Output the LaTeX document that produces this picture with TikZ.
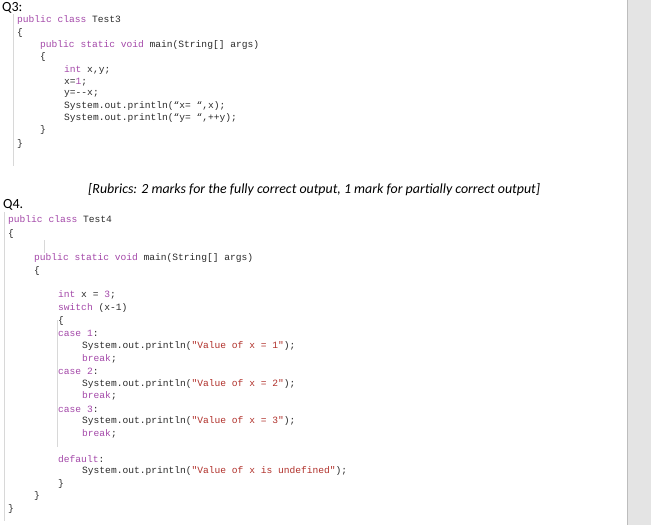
\documentclass[tikz,border=0pt]{standalone}
\usepackage{fontspec}
\setmainfont{Carlito}
\newfontfamily\codefont{Liberation Mono}
\usetikzlibrary{positioning}
\definecolor{kw}{HTML}{A347A8}
\definecolor{str}{HTML}{B0302A}
\definecolor{txt}{HTML}{2A2A2A}
\definecolor{guide}{HTML}{D8D8D8}
\definecolor{side}{HTML}{E4E4E4}
\newcommand{\kw}[1]{\textcolor{kw}{#1}}
\newcommand{\str}[1]{\textcolor{str}{#1}}
\begin{document}
\begin{tikzpicture}
  [x=1pt,y=-1pt,
   every node/.style={anchor=west,inner sep=0pt,text=txt},
   codeline/.style={font=\codefont\fontsize{9.6}{10}\selectfont},
   heading/.style={font=\fontsize{14}{16}\selectfont,text=black}]
  \useasboundingbox (0,0) rectangle (651,525);
  \fill[side] (627,0) rectangle (651,525);
  \draw[guide!70!gray,line width=1pt] (627.5,0) -- (627.5,525);
  % guide lines
  \draw[guide] (13,14) -- (13,166);
  \draw[guide] (4,212) -- (4,521);
  \draw[guide] (44,240) -- (44,253);
  \draw[guide] (57,320) -- (57,447);
  % Q3
  \node[heading] (q3) at (2,8) {Q3:};
  \node[codeline] (a1) at (17,20) {\kw{public class} Test3};
  \node[codeline] (a2) at (17,33) {\{};
  \node[codeline] (a3) at (40,45) {\kw{public static void} main(String[] args)};
  \node[codeline] (a4) at (40,57) {\{};
  \node[codeline] (a5) at (64,70) {\kw{int} x,y;};
  \node[codeline] (a6) at (64,82) {x=\kw{1};};
  \node[codeline] (a7) at (64,94) {y=--x;};
  \node[codeline] (a8) at (64,106) {System.out.println(“x= “,x);};
  \node[codeline] (a9) at (64,118) {System.out.println(“y= “,++y);};
  \node[codeline] (a10) at (40,130) {\}};
  \node[codeline] (a11) at (17,144) {\}};
  \node[font=\itshape\fontsize{13.9}{16}\selectfont,text=black] (rub) at (88,190)
    {[Rubrics: 2 marks for the fully correct output, 1 mark for partially correct output]};
  % Q4
  \node[heading] (q4) at (3,205) {Q4.};
  \node[codeline] (b1) at (8,220) {\kw{public class} Test4};
  \node[codeline] (b2) at (8,234) {\{};
  \node[codeline] (b3) at (34,258) {\kw{public static void} main(String[] args)};
  \node[codeline] (b4) at (34,271) {\{};
  \node[codeline] (b5) at (58,295) {\kw{int} x = \kw{3};};
  \node[codeline] (b6) at (58,308) {\kw{switch} (x-1)};
  \node[codeline] (b7) at (58,321) {\{};
  \node[codeline] (b8) at (58,333) {\kw{case 1}:};
  \node[codeline] (b9) at (82,346) {System.out.println(\str{"Value of x = 1"});};
  \node[codeline] (b10) at (82,359) {\kw{break};};
  \node[codeline] (b11) at (58,371) {\kw{case 2}:};
  \node[codeline] (b12) at (82,384) {System.out.println(\str{"Value of x = 2"});};
  \node[codeline] (b13) at (82,396) {\kw{break};};
  \node[codeline] (b14) at (58,409) {\kw{case 3}:};
  \node[codeline] (b15) at (82,421) {System.out.println(\str{"Value of x = 3"});};
  \node[codeline] (b16) at (82,434) {\kw{break};};
  \node[codeline] (b17) at (58,459) {\kw{default}:};
  \node[codeline] (b18) at (82,471) {System.out.println(\str{"Value of x is undefined"});};
  \node[codeline] (b19) at (58,484) {\}};
  \node[codeline] (b20) at (34,496) {\}};
  \node[codeline] (b21) at (8,509) {\}};
\end{tikzpicture}
\end{document}
